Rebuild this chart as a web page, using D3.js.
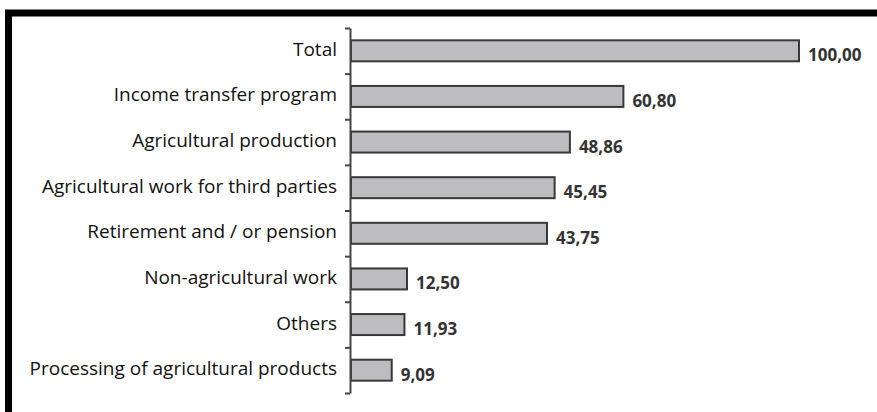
<!DOCTYPE html>
<html>
<head>
<meta charset="utf-8">
<script src="https://cdnjs.cloudflare.com/ajax/libs/d3/7.8.5/d3.min.js"></script>
<style>
  body { margin: 0; background: #fff; }
  svg { display: block; }
</style>
</head>
<body>
<div id="chart-area"></div>
<script>
// categories and values, top to bottom
var categories = [
    "Total",
    "Income transfer program",
    "Agricultural production",
    "Agricultural work for third parties",
    "Retirement and / or pension",
    "Non-agricultural work",
    "Others",
    "Processing of agricultural products"
];
var values = [100.00, 60.80, 48.86, 45.45, 43.75, 12.50, 11.93, 9.09];

var width = 877, height = 412;
var axisX = 350, plotTop = 28, plotBottom = 393;

var svg = d3.select("#chart-area").append("svg")
    .attr("width", width)
    .attr("height", height);

// frame (only top and left edges show in the picture)
svg.append("rect")
    .attr("x", 8.5).attr("y", 13)
    .attr("width", 880).attr("height", 420)
    .attr("fill", "none")
    .attr("stroke", "#000")
    .attr("stroke-width", 7);

var x = d3.scaleLinear().domain([0, 100]).range([axisX + 1, 799]);
var y = d3.scaleBand().domain(categories).range([plotTop, plotBottom]).paddingInner(0.54).paddingOuter(0.27);
var yTicks = d3.scaleLinear().domain([0, categories.length]).range([plotTop, plotBottom]);

var fmt = function(v){ return d3.format(".2f")(v).replace(".", ","); };

// bars
svg.selectAll("rect.bar")
    .data(values)
    .enter()
    .append("rect")
        .attr("class", "bar")
        .attr("x", x(0))
        .attr("y", function(d, i){ return y(categories[i]); })
        .attr("width", function(d){ return x(d) - x(0); })
        .attr("height", y.bandwidth())
        .attr("fill", "#bdbdc1")
        .attr("stroke", "#383838")
        .attr("stroke-width", 2);

// axis with ticks between categories
var axis = svg.append("g")
    .attr("transform", "translate(" + axisX + ",0)")
    .call(d3.axisLeft(yTicks).tickValues(d3.range(categories.length + 1)).tickSize(5).tickSizeOuter(0).tickFormat(""));
axis.select(".domain").attr("stroke", "#444").attr("stroke-width", 2);
axis.selectAll(".tick line").attr("stroke", "#444").attr("stroke-width", 2);

// category labels
svg.selectAll("text.cat")
    .data(categories)
    .enter()
    .append("text")
        .attr("class", "cat")
        .attr("x", 337)
        .attr("y", function(d){ return y(d) + y.bandwidth() / 2 + 5; })
        .attr("text-anchor", "end")
        .attr("font-family", "Open Sans")
        .attr("font-size", 19)
        .attr("fill", "#111")
        .text(function(d){ return d; });

// value labels
svg.selectAll("text.val")
    .data(values)
    .enter()
    .append("text")
        .attr("class", "val")
        .attr("x", function(d){ return x(d) + 9; })
        .attr("y", function(d, i){ return y(categories[i]) + y.bandwidth() / 2 + 10.5; })
        .attr("font-family", "Open Sans")
        .attr("font-weight", "bold")
        .attr("font-size", 17)
        .attr("fill", "#333")
        .text(function(d){ return fmt(d); });
</script>
</body>
</html>
